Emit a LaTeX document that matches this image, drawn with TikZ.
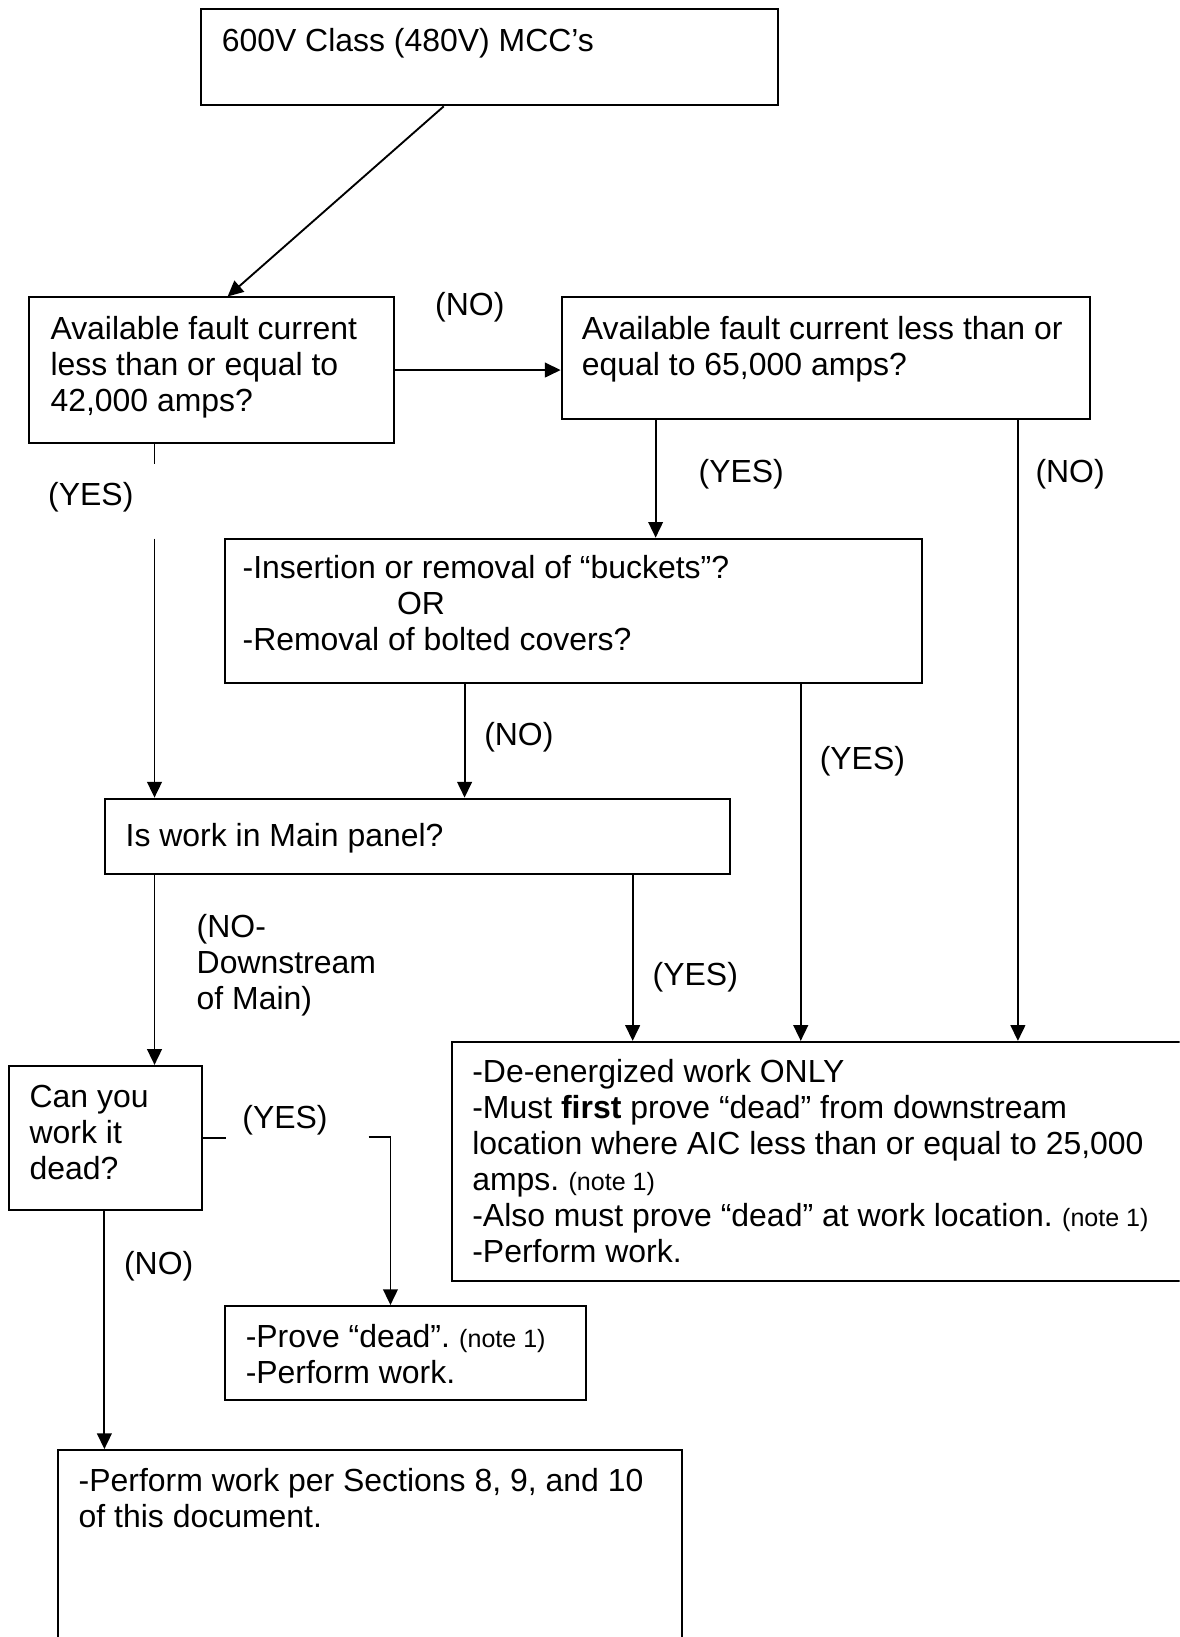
\documentclass[tikz,border=0pt]{standalone}
\usepackage{fontspec}
\setmainfont{Liberation Sans}
\usetikzlibrary{arrows.meta}
\newcommand{\tlines}[1]{\parbox[t]{420pt}{\raggedright #1}}
\newcommand{\nt}[1]{{\fontsize{12pt}{13pt}\selectfont #1}}
\tikzset{
  box/.style={draw, line width=0.95pt, rectangle, inner sep=0pt, anchor=north west},
  txt/.style={font=\fontsize{15.3pt}{17.25pt}\selectfont, inner sep=0pt, anchor=base west},
  lbl/.style={font=\fontsize{15.3pt}{17.25pt}\selectfont, inner sep=0pt, anchor=base},
  conn/.style={line width=0.9pt},
  arr/.style={conn, -{Triangle[length=7.5pt,width=7pt]}},
}
\begin{document}
\begin{tikzpicture}[x=0.5pt, y=-0.5pt]
\path[use as bounding box] (0,0) rectangle (1130,1568);
\clip (0,0) rectangle (1130,1568);
% boxes
\node[box, minimum width=276pt, minimum height=46pt] (b1) at (192,8) {};
\node[box, minimum width=174.5pt, minimum height=69.5pt] (b2) at (27,284) {};
\node[box, minimum width=253pt, minimum height=58pt] (b3) at (537,284) {};
\node[box, minimum width=333.5pt, minimum height=69pt] (b4) at (215,515) {};
\node[box, minimum width=299pt, minimum height=36pt] (b5) at (100,764) {};
\node[box, minimum width=359pt, minimum height=114.5pt] (b6) at (432,997) {};
\node[box, minimum width=92.5pt, minimum height=69pt] (b7) at (8,1020) {};
\node[box, minimum width=172.5pt, minimum height=45pt] (b8) at (215,1250) {};
\node[box, minimum width=298.5pt, minimum height=106pt] (b9) at (55,1388) {};
% box texts
\node[txt] (t1) at (212,49) {600V Class (480V) MCC’s};
\node[txt] (t2) at (48,325) {\tlines{Available fault current\\less than or equal to\\42,000 amps?}};
\node[txt] (t3) at (557,325) {\tlines{Available fault current less than or\\equal to 65,000 amps?}};
\node[txt] (t4) at (232,554) {\tlines{-Insertion or removal of “buckets”?\\\hspace*{74pt}OR\\-Removal of bolted covers?}};
\node[txt] (t5) at (120,811) {Is work in Main panel?};
\node[txt] (t6) at (452,1037) {\tlines{-De-energized work ONLY\\-Must \textbf{first} prove “dead” from downstream\\location where AIC less than or equal to 25,000\\amps.\nt{ (note 1)}\\-Also must prove “dead” at work location.\nt{ (note 1)}\\-Perform work.}};
\node[txt] (t7) at (28,1061) {\tlines{Can you\\work it\\dead?}};
\node[txt] (t8) at (235,1291) {\tlines{-Prove “dead”.\nt{ (note 1)}\\-Perform work.}};
\node[txt] (t9) at (75,1429) {\tlines{-Perform work per Sections 8, 9, and 10\\of this document.}};
% labels
\node[lbl] (l1) at (450,302) {(NO)};
\node[lbl] (l2) at (87,484) {(YES)};
\node[lbl] (l3) at (710,462) {(YES)};
\node[lbl] (l4) at (1025,462) {(NO)};
\node[lbl] (l5) at (497,714) {(NO)};
\node[lbl] (l6) at (826,737) {(YES)};
\node[txt] (l7) at (188,898) {\tlines{(NO-\\Downstream\\of Main)}};
\node[lbl] (l8) at (666,944) {(YES)};
\node[lbl] (l9) at (273,1081) {(YES)};
\node[lbl] (l10) at (152,1221) {(NO)};
% ports
\path ([xshift=116.5pt]b1.south west) coordinate (s1);
\path ([xshift=95.5pt]b2.north west) coordinate (n2);
\path ([xshift=60.5pt]b2.south west) coordinate (s2);
\path ([xshift=45.5pt]b3.south west) coordinate (s3a);
\path ([xshift=219pt]b3.south west) coordinate (s3b);
\path ([xshift=115pt]b4.south west) coordinate (s4a);
\path ([xshift=276pt]b4.south west) coordinate (s4b);
\path ([xshift=24pt]b5.south west) coordinate (s5a);
\path ([xshift=253pt]b5.south west) coordinate (s5b);
\path ([xshift=46pt]b7.south west) coordinate (s7);
\path ([xshift=79.5pt]b8.north west) coordinate (n8);
\coordinate (g1) at (148,516);
\coordinate (g2) at (353,1089);
% connectors
\draw[arr] (s1) -- (n2);
\draw[arr] (b2.east) -- (b2.east -| b3.west);
\draw[conn] (s2) -- ++(0,20);
\draw[arr] (g1) -- (g1 |- b5.north);
\draw[arr] (s3a) -- (s3a |- b4.north);
\draw[arr] (s3b) -- (s3b |- b6.north);
\draw[arr] (s4a) -- (s4a |- b5.north);
\draw[arr] (s4b) -- (s4b |- b6.north);
\draw[arr] (s5a) -- (s5a |- b7.north);
\draw[arr] (s5b) -- (s5b |- b6.north);
\draw[conn] (b7.east) -- ++(22,0);
\draw[arr] (g2) -| (n8);
\draw[arr] (s7) -- (s7 |- b9.north);
\end{tikzpicture}
\end{document}
